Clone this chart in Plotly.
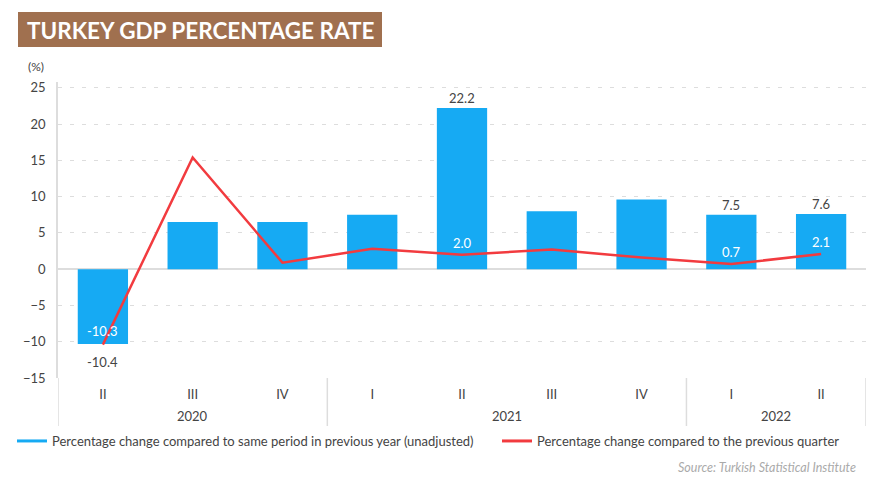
import plotly.graph_objects as go

years = ["2020", "2020", "2020", "2021", "2021", "2021", "2021", "2022", "2022"]
quarters = ["II", "III", "IV", "I", "II", "III", "IV", "I", "II"]
yoy = [-10.3, 6.5, 6.5, 7.5, 22.2, 8.0, 9.6, 7.5, 7.6]
qoq = [-10.4, 15.4, 0.9, 2.8, 2.0, 2.7, 1.6, 0.7, 2.1]
yoy_labels = ["-10.3", "", "", "", "22.2", "", "", "7.5", "7.6"]
qoq_labels = ["-10.4", "", "", "", "2.0", "", "", "0.7", "2.1"]
y_ticks = [-15, -10, -5, 0, 5, 10, 15, 20, 25]
year_groups = ["2020", "2021", "2022"]

name_yoy = "Percentage change compared to same period in previous year (unadjusted)"
name_qoq = "Percentage change compared to the previous quarter"

BLUE = "#16AAF3"
RED = "#F23B3F"
TXT = "#444444"
GRID = "#DDDDDD"
BROWN = "#A0704F"
FONT = "Lato"

# the page body has an 8px margin: work in reference pixels, shift by OFF
OFF = 8
W, H = 892 - OFF, 498 - OFF
L, R, T, B = 58 - OFF, 34 - OFF, 82 - OFF, 120
PW, PH = W - L - R, H - T - B


def px(x):
    return (x - OFF - L) / PW


def py(y):
    return 1 - (y - OFF - T) / PH


keys = [f"{y} {q}" for y, q in zip(years, quarters)]

fig = go.Figure()

fig.add_trace(go.Bar(
    x=keys, y=yoy, marker=dict(color=BLUE, line=dict(width=0)),
    name=name_yoy, showlegend=False, width=0.56, hoverinfo="skip",
))
fig.add_trace(go.Scatter(
    x=keys, y=qoq, mode="lines", line=dict(color=RED, width=2.5),
    name=name_qoq, showlegend=False, hoverinfo="skip",
))
# legend-only entries
fig.add_trace(go.Scatter(x=[None], y=[None], mode="lines",
                         line=dict(color=BLUE, width=3), name=name_yoy,
                         legend="legend"))
fig.add_trace(go.Scatter(x=[None], y=[None], mode="lines",
                         line=dict(color=RED, width=3), name=name_qoq,
                         legend="legend2"))

annotations = []
# value labels
for k, v, t in zip(keys, yoy, yoy_labels):
    if not t:
        continue
    if v < 0:
        annotations.append(dict(x=k, y=v, text=t, yshift=13, showarrow=False,
                                xref="x", yref="y", yanchor="middle",
                                font=dict(size=13, color="white", family=FONT)))
    else:
        annotations.append(dict(x=k, y=v, text=t, yshift=10, showarrow=False,
                                xref="x", yref="y", yanchor="middle",
                                font=dict(size=13, color=TXT, family=FONT)))
for k, v, t in zip(keys, qoq, qoq_labels):
    if not t:
        continue
    if v < 0:
        annotations.append(dict(x=k, y=v, text=t, yshift=-17, showarrow=False,
                                xref="x", yref="y", yanchor="middle",
                                font=dict(size=13, color=TXT, family=FONT)))
    else:
        annotations.append(dict(x=k, y=v, text=t, yshift=12, showarrow=False,
                                xref="x", yref="y", yanchor="middle",
                                font=dict(size=13, color="white", family=FONT)))

# year group labels and dividers
shapes = []
n = len(years)
bounds = [-0.5]
for g in year_groups:
    idx = [i for i, y in enumerate(years) if y == g]
    center = (idx[0] + idx[-1]) / 2
    annotations.append(dict(text=g, xref="x", yref="paper", x=center, y=py(416),
                            xanchor="center", yanchor="middle", showarrow=False,
                            font=dict(size=13, color=TXT, family=FONT)))
    bounds.append(idx[-1] + 0.5)
for b in bounds:
    shapes.append(dict(type="line", xref="x", yref="paper", x0=b, x1=b,
                       y0=0, y1=py(426), line=dict(color=GRID, width=1.5)))

# title box
shapes.append(dict(type="rect", xref="paper", yref="paper", x0=px(18), x1=px(382),
                   y0=py(47), y1=py(12), fillcolor=BROWN, line=dict(width=0),
                   layer="below"))
annotations += [
    dict(text="<b>TURKEY GDP PERCENTAGE RATE</b>", xref="paper", yref="paper",
         x=(px(18) + px(382)) / 2, y=py(30), xanchor="center", yanchor="middle",
         showarrow=False, font=dict(size=22.5, color="white", family=FONT)),
    dict(text="(%)", xref="paper", yref="paper", x=px(26), y=py(66),
         xanchor="left", yanchor="middle", showarrow=False,
         font=dict(size=12, color=TXT, family=FONT)),
    dict(text="<i>Source: Turkish Statistical Institute</i>", xref="paper",
         yref="paper", x=px(858), y=py(468), xanchor="right", yanchor="middle",
         showarrow=False, font=dict(size=12.5, color="#AAAAAA", family=FONT)),
]

leg_common = dict(orientation="h", xanchor="left", yanchor="middle",
                  font=dict(size=13, color=TXT, family=FONT),
                  itemwidth=30, bgcolor="rgba(0,0,0,0)")

fig.update_layout(
    width=W, height=H,
    margin=dict(l=L, r=R, t=T, b=B, autoexpand=False),
    paper_bgcolor="white", plot_bgcolor="white",
    font=dict(family=FONT, size=12, color=TXT),
    showlegend=True,
    legend=dict(x=px(12), y=py(441), **leg_common),
    legend2=dict(x=px(497), y=py(441), **leg_common),
    xaxis=dict(
        type="category", showgrid=False, zeroline=False,
        showline=False, ticks="", tickvals=keys, ticktext=quarters,
        tickfont=dict(size=13, color=TXT, family=FONT), ticklabelstandoff=7,
        range=[-0.5, n - 0.5], fixedrange=True,
    ),
    yaxis=dict(
        range=[-15, 25.8], tickvals=y_ticks, showgrid=True,
        gridcolor=GRID, griddash="4px,8px", gridwidth=1,
        zeroline=True, zerolinecolor=GRID, zerolinewidth=2,
        showline=True, linecolor=GRID, linewidth=1.5,
        ticks="", ticklabelstandoff=8,
        tickfont=dict(size=13, color=TXT, family=FONT), fixedrange=True,
    ),
    shapes=shapes,
    annotations=annotations,
)

fig.write_html("out.html")
